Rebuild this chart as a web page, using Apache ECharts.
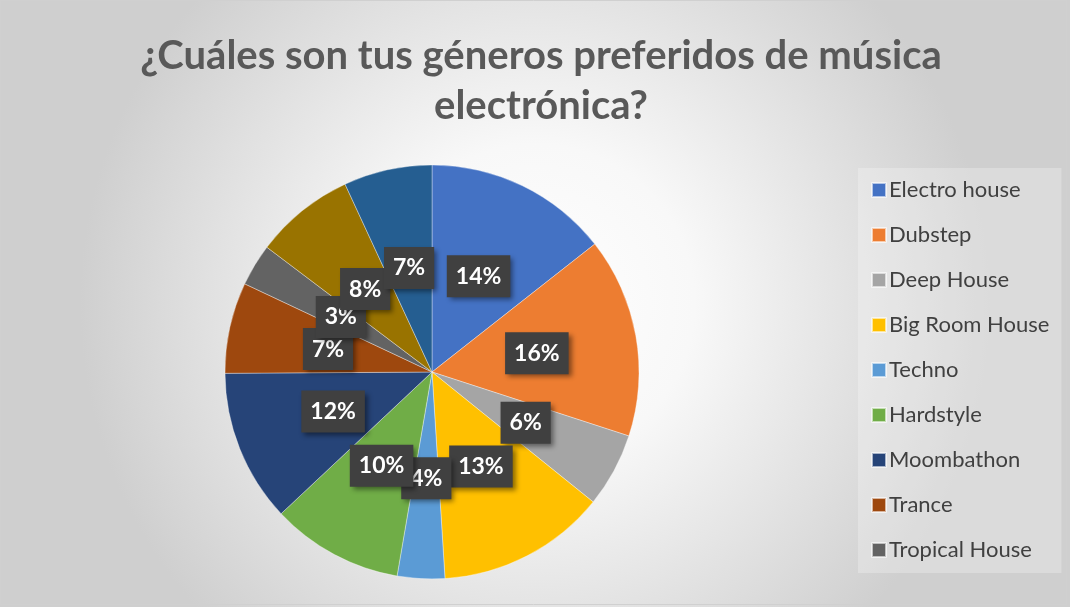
<!DOCTYPE html>
<html><head><meta charset="utf-8">
<script src="https://cdn.jsdelivr.net/npm/echarts@6/dist/echarts.min.js"></script>
<style>html,body{margin:0;padding:0;}#c{width:1070px;height:607px;}</style>
</head><body><div id="c"></div>
<script>
const titleText = '¿Cuáles son tus géneros preferidos de música\nelectrónica?';
const categories = ['Electro house','Dubstep','Deep House','Big Room House','Techno','Hardstyle','Moombathon','Trance','Tropical House','Otro género 1','Otro género 2'];
const values = [14.4, 15.6, 5.8, 13.2, 3.7, 10.3, 11.9, 7.1, 3.3, 7.8, 6.9];
const legendShown = categories.slice(0, 9);
const colors = ['#4472C4','#ED7D31','#A5A5A5','#FFC000','#5B9BD5','#70AD47','#264478','#9E480E','#636363','#997300','#255E91'];

const chart = echarts.init(document.getElementById('c'));
const font = 'Lato, "Open Sans", sans-serif';
chart.setOption({
  animation: false,
  backgroundColor: {type:'radial', x:0.5, y:0.5, r:0.75, colorStops:[{offset:0,color:'#ffffff'},{offset:0.35,color:'#f8f8f8'},{offset:1,color:'#cfcfcf'}]},
  color: colors,
  graphic: [
    {type:'rect', shape:{x:0.5,y:0.5,width:1066,height:604}, style:{fill:'none', stroke:'#d0d0d0', lineWidth:1}, silent:true},
    {type:'text', x:541, y:31, style:{text:titleText, fill:'#595959', font:'bold 40px ' + font, textAlign:'center', lineHeight:50}}
  ],
  legend: {
    orient:'vertical', left:858, top:168, data: legendShown,
    itemWidth:14, itemHeight:14, itemGap:21, icon:'rect',
    padding:[10, 12, 11, 13],
    backgroundColor:'rgba(255,255,255,0.25)',
    textStyle:{fontFamily:font, fontSize:22, color:'#404040', lineHeight:24, padding:[0,0,0,-2]}
  },
  series: [{
    type:'pie', center:[432,372], radius:207, startAngle:90, clockwise:true,
    avoidLabelOverlap:false,
    data: categories.map((n,i)=>({name:n, value:values[i]})),
    itemStyle:{borderColor:'rgba(255,255,255,0.6)', borderWidth:0.6},
    label:{
      show:true, position:'inside',
      formatter: p => Math.round(p.percent) + '%',
      color:'#ffffff', fontFamily:font, fontWeight:'bold', fontSize:23,
      backgroundColor:'#404040', padding:[10,9,9,9],
      shadowColor:'rgba(0,0,0,0.45)', shadowBlur:5, shadowOffsetX:3, shadowOffsetY:3
    },
    labelLayout:{hideOverlap:false},
    labelLine:{show:false},
    emphasis:{disabled:true}
  }]
});
</script></body></html>
